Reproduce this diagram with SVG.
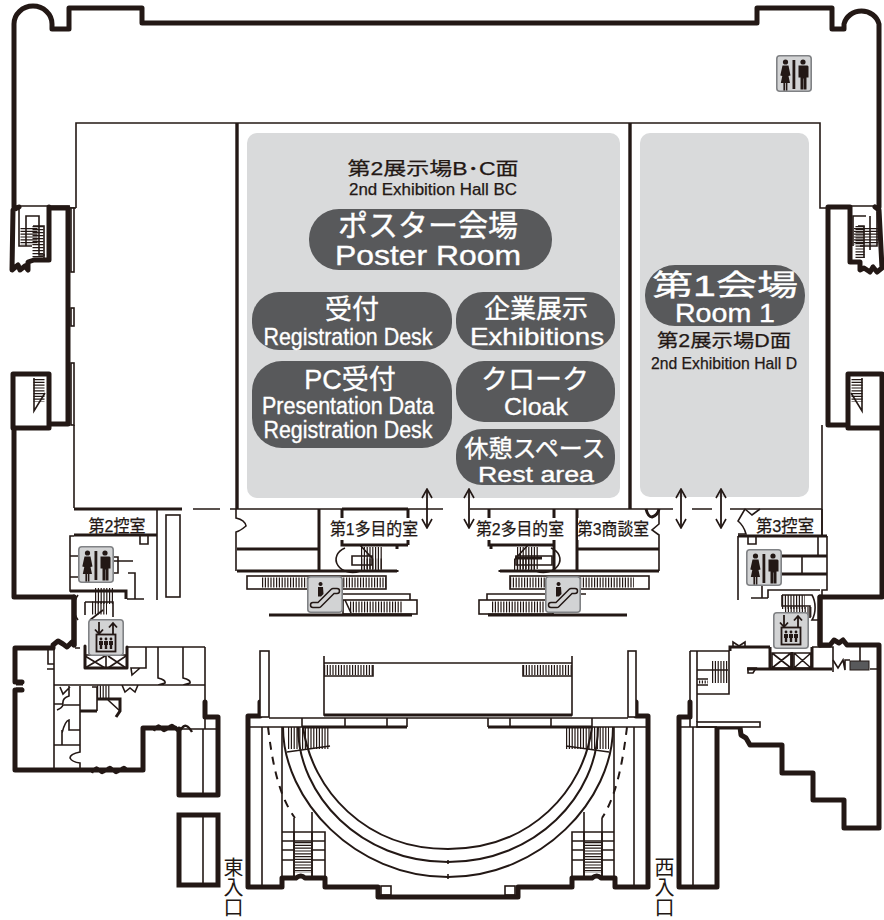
<svg xmlns="http://www.w3.org/2000/svg" xmlns:xlink="http://www.w3.org/1999/xlink" width="884" height="920" viewBox="0 0 884 920">
<style>
.th{fill:none;stroke:#231815;stroke-width:5;stroke-linejoin:round;stroke-linecap:round}
.md{fill:none;stroke:#231815;stroke-width:3}
.t{fill:none;stroke:#231815;stroke-width:1.6}
.w{fill:#fff;stroke:#231815;stroke-width:1.6}
.h{fill:none;stroke:#231815;stroke-dasharray:1.2 1.6}
.d{fill:none;stroke:#231815;stroke-width:2;stroke-dasharray:8 7}
.arr{fill:none;stroke:#231815;stroke-width:1.8;marker-start:url(#ah);marker-end:url(#ah)}
.panel{fill:#d9dadb}
.pill{fill:#58595b}
.ib{fill:#d2d3d4;stroke:#808285;stroke-width:1.6}
.k{fill:#231815}
.wt{fill:#fff;stroke:#fff;stroke-width:.35px;text-anchor:middle;font-family:"Liberation Sans","Noto Sans CJK JP",sans-serif}
.bt{fill:#231815;stroke:#231815;stroke-width:.25px;text-anchor:middle;font-family:"Liberation Sans","Noto Sans CJK JP",sans-serif}
.rm{font-size:17px}
.v{writing-mode:vertical-rl;font-size:20px;text-anchor:start;stroke:none}
</style>
<defs>
<marker id="ah" viewBox="-10 -6 11 12" refX="0" refY="0" markerUnits="userSpaceOnUse" markerWidth="11" markerHeight="12" orient="auto-start-reverse"><path d="M-9,-5 L0,0 L-9,5" fill="none" stroke="#231815" stroke-width="1.6"/></marker>
<g id="wc">
<rect class="ib" x="0.8" y="0.8" width="34.4" height="35.4" rx="3"/>
<circle class="k" cx="9.5" cy="7" r="2.6"/>
<path class="k" d="M6.5,10.5h6l2,10l-2,.5l1.5,7h-2.6v7.5h-1.6v-7.5h-.8v7.5h-1.6v-7.5h-2.6l1.5,-7l-2,-.5z"/>
<rect class="k" x="16.5" y="5" width="2.8" height="29"/>
<circle class="k" cx="27" cy="7" r="2.6"/>
<path class="k" d="M22.5,10.5h9l1,1v11h-2v12h-2.8v-11h-.4v11h-2.8v-12h-2v-11z"/>
</g>
<g id="lift">
<rect class="ib" x="0.8" y="0.8" width="34.4" height="35.4" rx="3"/>
<path class="t" style="stroke-width:1.8" d="M11,3v12M7,10.5l4,4.5l4,-4.5M25,16v-12M21,8.5l4,-4.5l4,4.5"/>
<rect x="8.5" y="15.5" width="19" height="17" fill="#d2d3d4" stroke="#231815" stroke-width="1.8"/>
<g class="k"><circle cx="13" cy="20" r="1.4"/><path d="M11,22h4v4h-.8v4h-2.4v-4h-.8z"/><circle cx="18" cy="20" r="1.4"/><path d="M16,22h4v4h-.8v4h-2.4v-4h-.8z"/><circle cx="23" cy="20" r="1.4"/><path d="M21,22h4v4h-.8v4h-2.4v-4h-.8z"/></g>
</g>
<g id="esc">
<rect class="ib" x="0.8" y="0.8" width="34.4" height="35.4" rx="3"/>
<path class="k" d="M13.5,10a2,2 0 1 1 .1,0zM11,11h5l.5,7l-2.5,2.5h-3z"/>
<path d="M6,29h6l14,-14h4" fill="none" stroke="#231815" stroke-width="6.5" stroke-linecap="round" stroke-linejoin="round"/>
<path d="M6,29h6l14,-14h4" fill="none" stroke="#d2d3d4" stroke-width="3.5" stroke-linecap="round" stroke-linejoin="round"/>
</g>
</defs>

<g id="panels">
<rect class="panel" x="247" y="133" width="373" height="365" rx="10"/>
<rect class="panel" x="640" y="133" width="169" height="364" rx="10"/>
</g>

<g id="plan">
<path class="th" d="M14,207V24A18,17 0 0 1 52,24V29H69V8H142V23H757V8H832V29H844V24A18,17 0 0 1 879,24V207"/>
<path class="t" d="M14,206H70M76,208V123H820V208H826M76,208H70M850,206H880"/>
<path d="M237,123V509M630,123V509" fill="none" stroke="#231815" stroke-width="3.4"/>
<path class="th" d="M19,207L13,210L12,270L18,265L20,270L25,266L28,270V262L34,260H49V207M50,208H68V424H50M14,428V597H74V645"/>
<path class="th" d="M13,374H49V428H13z"/>
<rect class="w" x="71" y="208" width="3" height="64"/><rect class="w" x="71" y="308" width="3" height="18"/><rect class="w" x="71" y="363" width="3" height="62"/>
<path class="t" d="M19,207V246H32M26,246V216H39V255H45M33,226H44V258"/>
<path class="h" stroke-width="17" d="M29,228V245"/><path class="h" stroke-width="11" d="M38,226V258" style="stroke-dasharray:1.2 1.8"/>
<path class="t" d="M34,378V411L45,393"/><path class="h" stroke-width="11" d="M39,379V402"/>
<path class="th" d="M875,207L879,210L882,268L877,272L873,267L870,272L864,268L860,270V262H850V207H828V425H848M882,374H848V428H882zM882,428V597H820V645"/>
<path class="t" d="M851,207V264M877,207V246H860M866,216H853V246M870,216V250M858,226H864V258"/>
<path class="h" stroke-width="24" d="M866,228V245"/><path class="h" stroke-width="9" d="M860,226V258"/>
<path class="t" d="M862,378V411L851,393"/><path class="h" stroke-width="11" d="M857,379V402"/>
<path class="t" d="M74,425V508"/>
<path class="md" d="M74,509H182"/>
<path class="t" d="M193,509H220M230,509H342"/>
<path class="md" d="M342,509H408"/>
<path class="t" d="M408,509H443M470,509H673M692,509H712M730,509H822M822,425V536"/>
<path class="md" d="M74,535H157"/>
<path class="t" d="M157,509V535M74,536H70V591H74M70,556H78M70,577H78M157,535V600M140,536V544H148V536M113,561H133M128,573H135V599M127,599H144M113,557H118V573H113"/>
<path class="md" d="M70,591H126V599"/>
<rect class="w" x="166" y="515" width="14" height="82"/>
<path class="t" d="M78,595A14,18 0 0 0 78,620M85,602H113V617M85,602V615"/>
<path class="h" stroke-width="16" d="M95,596H114"/><path class="h" stroke-width="13" d="M92,608H107"/>
<path class="t" d="M103,610L90,620"/>
<path class="th" d="M74,597V645L72,642L67,647L63,644L58,641L53,645V648H15V682H22M22,690H15V770H143V728H175"/>
<path class="md" d="M16,684H23M16,689H23M175,728"/>
<path class="t" d="M54,648V770M48,650V664H54M47,669H54M54,685H205M205,647V701M127,647H205M146,647V668H131L132,675L140,668M158,647V678Q166,680 165,683L158,685M183,647V678Q191,680 190,683L183,685M122,685L125,692L130,688L135,692L138,685"/>
<path class="t" d="M80,686V752Q70,754 70,758Q72,762 80,763V770M54,704H63M63,704Q62,698 69,696V686M57,710Q62,708 63,705H80M54,745H80M62,745V730M62,733Q65,721 69,720V730H80M60,687L63,694L70,687"/>
<path class="md" d="M80,711H97M97,699H120V711L116,717"/>
<path class="t" d="M92,687H97V711M120,711L108,700"/>
<path class="h" stroke-width="13" d="M97,692H110"/>
<path class="th" style="stroke-width:3" d="M85,646V668H127V647"/>
<path class="t" d="M85,655H106M106,655V668M108,655H126M85,656L105,668M105,656L85,668M108,668L126,656M108,656L126,668M80,648H75"/>
<path class="t" style="stroke-width:2.4" d="M92,773Q96,764 99,770T106,770T113,770T120,770T127,770M154,731Q158,722 161,728T168,728T175,728T182,728T192,732"/>
<path class="th" d="M205,702V717H218V795H179V729"/>
<path class="t" d="M179,729H218M203,729V795M205,717V729"/>
<rect x="179" y="815" width="39" height="70" fill="none" stroke="#231815" stroke-width="5"/>
<path class="t" d="M203,815V885"/>
<path class="t" d="M236,509V518Q245,520 246,526Q240,531 236,532V571"/>
<path class="md" d="M237,549H319M237,571H397M319,509V571M342,509V545H408M408,509V522M408,540V545M397,545V549M397,570V572"/>
<path class="t" d="M345,548A14,11 0 0 0 360,571M352,556H372V565H352zM360,545L372,558"/>
<path class="h" stroke-width="22" d="M361,558H382"/><path class="h" stroke-width="13" d="M361,565H382"/>
<rect class="t" x="247" y="576" width="139" height="13"/><path class="h" stroke-width="10" d="M262,582.5H386"/>
<path class="t" d="M343,594H410V600"/>
<rect class="t" x="343" y="600" width="74" height="14"/><path class="h" stroke-width="11" d="M350,607H403"/>
<path class="md" d="M269,615H412"/>
<path class="t" d="M351,613L345,600"/>
<path class="md" d="M489,509V545H554M554,509V571M577,509V571M577,549H659M500,571H659M489,545V540M500,570V572M491,545V549M646,509Q648,517 652,517Q658,515 659,509"/>
<path class="t" d="M659,509V524L652,530L659,535V571"/>
<path class="t" d="M551,548A14,11 0 0 1 536,571M552,556H516V565H552zM528,545L516,558"/>
<path class="h" stroke-width="22" d="M517,558H538"/><path class="h" stroke-width="13" d="M514,565H535"/>
<path class="md" d="M515,558H542"/>
<rect class="t" x="510" y="576" width="139" height="13"/><path class="h" stroke-width="10" d="M510,582.5H634"/>
<path class="t" d="M487,600V594H545M545,594H586"/>
<rect class="t" x="479" y="600" width="74" height="14"/><path class="h" stroke-width="11" d="M492,607H545"/>
<path class="md" d="M488,615H627"/>
<path class="md" d="M738,536H827"/>
<path class="t" d="M738,536V600M745,509L738,521Q744,526 746,534H738M745,509L752,515L760,509M822,509V536M827,536V590L822,590V597M818,536V556M748,537V544H756V537M802,556V574M762,586V598M751,598H768M768,598V590H820"/>
<path class="md" d="M782,556H827M782,574H827"/>
<path class="t" d="M782,595H812A11,18 0 0 1 812,620H820M782,595V606H810V618"/>
<path class="h" stroke-width="14" d="M782,602H805"/><path class="h" stroke-width="10" d="M785,612H812"/>
<path class="th" d="M820,597V645H830L834,640L839,643L843,640L847,645H879V828H844V800H813V773H782V745H750L746,738L741,735L740,727H717V887H679V717H690V702"/>
<path class="md" d="M747,669H832M770,647V669M792,652V669M812,647V669M730,651V647H770"/>
<path class="t" d="M812,647H833V672M772,653H791V668H772zM772,653L791,668M791,653L772,668M794,653H811V668H794zM794,653L811,668M811,653L794,668"/>
<path class="t" d="M733,647V642L739,646L745,642V647M833,660L838,668L843,660L845,670V660H850M860,647V661M870,669H878M748,668H756L753,673H748z"/>
<rect x="850" y="661" width="19" height="9" fill="#58595b" stroke="#231815"/>
<path class="t" d="M690,651H729M690,651V702M697,651V722M729,651V694H697M697,670H728M697,679H708M697,685H708"/>
<path class="h" stroke-width="22" d="M712,672H728"/><path class="h" stroke-width="3" d="M699,682H708"/>
<rect class="w" x="697" y="722" width="63" height="5"/>
<path class="t" d="M681,727H690V718M679,727H717M693,727V885"/>
<path class="th" d="M260,702V716H248V887H282V878H296Q301,874 305,878H325V887H378V897H518V887H572V878H592Q597,874 601,878H615V887H648V716H636V702"/>
<rect class="w" x="260" y="651" width="9" height="66"/><rect class="w" x="628" y="651" width="8" height="66"/>
<path class="t" d="M269,718H628M250,727H302M592,727H646M262,727V885M282,727V878M634,727V885M614,727V878M324,656V715H572V656M324,663H572M302,718V727M345,718V727M387,718V727M407,718V727M488,718V727M510,718V727M551,718V727M592,718V727"/>
<path class="md" d="M302,727H407M488,727H592M324,715H572"/>
<path class="h" stroke-width="10" d="M324,670H373"/><path class="h" stroke-width="10" d="M523,670H572"/>
<path class="t" d="M324,676H373V665M572,676H523V665"/>
<path class="t" d="M287,752L330,746M609,752L566,746"/>
<path class="h" stroke-width="22" d="M288,738H330"/><path class="h" stroke-width="22" d="M566,738H609"/>
<path class="t" style="stroke-width:2" d="M283,727C283,800 355,877 448,877C541,877 613,800 613,727M298,727C298,795 360,862 448,862C536,862 598,795 598,727M303,727C312,790 365,849 448,849C531,849 584,790 592,727"/>
<path class="d" d="M268,727C272,760 278,795 295,818"/>
<path class="d" d="M627,727C623,760 617,795 602,818"/>
<path class="t" d="M448,860V864M448,874V879"/>
<path class="t" d="M282,832H325V878M282,841H325M282,850H325M282,860H325M294,818V876M312,812V876M614,832H572V878M614,841H572M614,850H572M614,860H572M584,812V876M602,818V876"/>
<rect x="295" y="843" width="16" height="30" fill="#fff"/><rect x="585" y="843" width="16" height="30" fill="#fff"/>
<path class="h" stroke-width="16" d="M303,842V873"/><path class="h" stroke-width="16" d="M593,842V873"/>
<path class="t" d="M294,832V876M312,832V876M584,832V876M602,832V876"/>
<rect class="t" x="381" y="886" width="10" height="9"/><rect class="t" x="505" y="886" width="10" height="9"/>
</g>

<g id="connectors">
<path class="arr" d="M427,489V528"/>
<path class="arr" d="M469,489V528"/>
<path class="arr" d="M681,489V528"/>
<path class="arr" d="M721,489V528"/>
</g>

<g id="icons">
<use id="wc-ne" xlink:href="#wc" x="776" y="55"/>
<use id="wc-w" xlink:href="#wc" x="78" y="546"/>
<use id="wc-e" xlink:href="#wc" x="746" y="549"/>
<use id="lift-w" xlink:href="#lift" x="88" y="619"/>
<use id="lift-e" xlink:href="#lift" x="773" y="612"/>
<use id="esc-w" xlink:href="#esc" x="307" y="576"/>
<use id="esc-e" xlink:href="#esc" x="545" y="576"/>
</g>

<g id="hall-bc"><text class="bt" x="433" y="175" font-size="18" textLength="171" lengthAdjust="spacingAndGlyphs">第2展示場B･C面</text><text class="bt" x="433" y="195" font-size="16" textLength="168" lengthAdjust="spacingAndGlyphs">2nd Exhibition Hall BC</text></g>
<g id="poster"><rect class="pill" x="309" y="209" width="243" height="61" rx="30"/><text class="wt" x="428" y="236" font-size="30">ポスター会場</text><text class="wt" x="428" y="265" font-size="28" textLength="186" lengthAdjust="spacingAndGlyphs">Poster Room</text></g>
<g id="reg"><rect class="pill" x="252" y="292" width="200" height="58" rx="27"/><text class="wt" x="352" y="319" font-size="27">受付</text><text class="wt" x="348" y="345" font-size="24" textLength="169" lengthAdjust="spacingAndGlyphs">Registration Desk</text></g>
<g id="exh"><rect class="pill" x="456" y="292" width="159" height="58" rx="27"/><text class="wt" x="536" y="318" font-size="26">企業展示</text><text class="wt" x="537" y="345" font-size="24" textLength="134" lengthAdjust="spacingAndGlyphs">Exhibitions</text></g>
<g id="pc"><rect class="pill" x="252" y="361" width="200" height="87" rx="30"/><text class="wt" x="350" y="389" font-size="27">PC受付</text><text class="wt" x="348" y="414" font-size="23" textLength="172" lengthAdjust="spacingAndGlyphs">Presentation Data</text><text class="wt" x="348" y="438" font-size="23" textLength="169" lengthAdjust="spacingAndGlyphs">Registration Desk</text></g>
<g id="cloak"><rect class="pill" x="456" y="361" width="159" height="61" rx="28"/><text class="wt" x="535" y="389" font-size="27">クローク</text><text class="wt" x="536" y="415" font-size="24" textLength="64" lengthAdjust="spacingAndGlyphs">Cloak</text></g>
<g id="rest"><rect class="pill" x="456" y="429" width="159" height="56" rx="26"/><text class="wt" x="535" y="457" font-size="24">休憩スペース</text><text class="wt" x="536" y="482" font-size="22" textLength="116" lengthAdjust="spacingAndGlyphs">Rest area</text></g>
<g id="room1"><rect class="pill" x="645" y="265" width="160" height="61" rx="30"/><text class="wt" x="725" y="296" font-size="29" textLength="146" lengthAdjust="spacingAndGlyphs">第1会場</text><text class="wt" x="725" y="322" font-size="25" textLength="100" lengthAdjust="spacingAndGlyphs">Room 1</text></g>
<g id="hall-d"><text class="bt" x="724" y="347" font-size="18" textLength="134" lengthAdjust="spacingAndGlyphs">第2展示場D面</text><text class="bt" x="724" y="369" font-size="16" textLength="146" lengthAdjust="spacingAndGlyphs">2nd Exhibition Hall D</text></g>

<g id="room-labels">
<text class="bt rm" x="117" y="532" textLength="57" lengthAdjust="spacingAndGlyphs">第2控室</text>
<rect x="331" y="518" width="87" height="22" fill="#fff"/><rect x="476" y="518" width="88" height="22" fill="#fff"/><rect x="578" y="518" width="72" height="22" fill="#fff"/>
<text class="bt rm" x="374" y="535" textLength="88" lengthAdjust="spacingAndGlyphs">第1多目的室</text>
<text class="bt rm" x="520" y="535" textLength="88" lengthAdjust="spacingAndGlyphs">第2多目的室</text>
<text class="bt rm" x="613" y="535" textLength="72" lengthAdjust="spacingAndGlyphs">第3商談室</text>
<text class="bt rm" x="785" y="532" textLength="58" lengthAdjust="spacingAndGlyphs">第3控室</text>
<text class="bt v" x="232" y="857">東入口</text>
<text class="bt v" x="663" y="857">西入口</text>
</g>
</svg>
